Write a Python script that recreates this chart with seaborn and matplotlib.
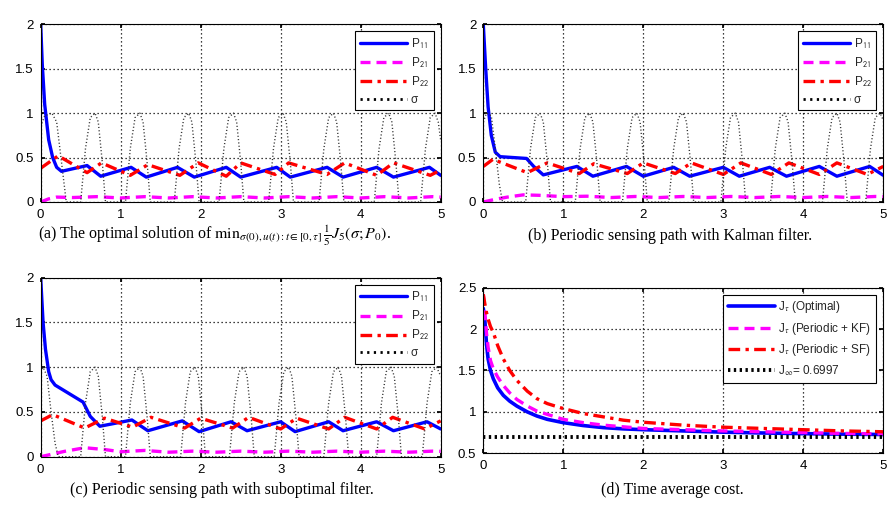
# recreate 2x2 sensing-path figure (covariance entries + time average cost)

import numpy as np
import matplotlib
matplotlib.use("Agg")
import matplotlib.pyplot as plt
import seaborn as sns

sns.set_theme(style="ticks")
plt.rcParams["font.family"] = ["Liberation Sans", "DejaVu Sans"]
plt.rcParams["mathtext.fontset"] = "stix"

# =========================
# DATA
# =========================

# panel (a): optimal solution
t_p11_a = [0, 0.02, 0.05, 0.1, 0.15, 0.2, 0.26, 0.58, 0.75, 1.13, 1.32, 1.71, 1.92,
           2.32, 2.5, 2.95, 3.12, 3.58, 3.78, 4.2, 4.41, 4.86, 5.0]
p11_a = [2.0, 1.55, 1.1, 0.7, 0.5, 0.39, 0.345, 0.41, 0.29, 0.39, 0.28, 0.39, 0.28,
         0.39, 0.28, 0.39, 0.28, 0.39, 0.28, 0.39, 0.28, 0.39, 0.30]
t_p22_a = [0, 0.22, 0.58, 0.76, 1.12, 1.34, 1.74, 1.97, 2.32, 2.5, 2.93, 3.1, 3.58,
           3.8, 4.2, 4.41, 4.87, 5.0]
p22_a = [0.38, 0.52, 0.33, 0.44, 0.30, 0.42, 0.30, 0.44, 0.29, 0.44, 0.31, 0.44, 0.31,
         0.44, 0.30, 0.44, 0.30, 0.36]
t_p21_a = [0, 0.1, 0.2, 0.4, 0.7, 1.0, 1.3, 1.6, 1.9, 2.2, 2.5, 2.8, 3.1, 3.4, 3.7,
           4.0, 4.3, 4.6, 4.9, 5.0]
p21_a = [0.0, 0.035, 0.055, 0.05, 0.06, 0.045, 0.06, 0.045, 0.06, 0.045, 0.06, 0.045,
         0.06, 0.045, 0.06, 0.045, 0.06, 0.045, 0.06, 0.055]
t_sig_a = [0, 0.05, 0.14, 0.2, 0.26, 0.32,
           0.5, 0.56, 0.62, 0.68, 0.72, 0.77, 0.81,
           1.06, 1.12, 1.18, 1.24, 1.28, 1.33, 1.37,
           1.67, 1.73, 1.79, 1.85, 1.89, 1.94, 1.98,
           2.23, 2.29, 2.35, 2.41, 2.45, 2.5, 2.54,
           2.85, 2.91, 2.97, 3.03, 3.07, 3.12, 3.16,
           3.48, 3.54, 3.6, 3.66, 3.7, 3.75, 3.79,
           4.17, 4.23, 4.29, 4.35, 4.39, 4.44, 4.48,
           4.75, 4.81, 4.87, 4.93, 4.97, 5.0]
sig_a = [0.85, 0.97, 1.0, 0.9, 0.45, 0.0,
         0.0, 0.6, 0.95, 1.0, 0.9, 0.45, 0.0,
         0.0, 0.6, 0.95, 1.0, 0.9, 0.45, 0.0,
         0.0, 0.6, 0.95, 1.0, 0.9, 0.45, 0.0,
         0.0, 0.6, 0.95, 1.0, 0.9, 0.45, 0.0,
         0.0, 0.6, 0.95, 1.0, 0.9, 0.45, 0.0,
         0.0, 0.6, 0.95, 1.0, 0.9, 0.45, 0.0,
         0.0, 0.6, 0.95, 1.0, 0.9, 0.45, 0.0,
         0.0, 0.6, 0.95, 1.0, 0.9, 0.7]

# panel (b): periodic path + Kalman filter
t_p11_b = [0, 0.03, 0.06, 0.1, 0.15, 0.21, 0.54, 0.63, 0.75, 1.17, 1.37, 1.79, 2.0,
           2.38, 2.58, 3.0, 3.2, 3.58, 3.79, 4.2, 4.42, 4.83, 5.0]
p11_b = [2.0, 1.5, 1.07, 0.75, 0.56, 0.51, 0.49, 0.40, 0.305, 0.40, 0.29, 0.40, 0.29,
         0.39, 0.29, 0.39, 0.29, 0.39, 0.29, 0.40, 0.29, 0.40, 0.30]
t_p22_b = [0, 0.12, 0.55, 0.8, 1.2, 1.38, 1.8, 2.0, 2.4, 2.6, 3.0, 3.22, 3.6, 3.82,
           4.2, 4.42, 4.8, 5.0]
p22_b = [0.40, 0.48, 0.33, 0.44, 0.32, 0.43, 0.32, 0.44, 0.32, 0.44, 0.31, 0.44, 0.31,
         0.44, 0.31, 0.44, 0.31, 0.40]
t_p21_b = [0, 0.15, 0.3, 0.5, 0.7, 1.0, 1.3, 1.6, 1.9, 2.2, 2.5, 2.8, 3.1, 3.4, 3.7,
           4.0, 4.3, 4.6, 4.9, 5.0]
p21_b = [0.0, 0.03, 0.055, 0.08, 0.075, 0.06, 0.065, 0.05, 0.062, 0.05, 0.062, 0.05,
         0.062, 0.05, 0.062, 0.05, 0.062, 0.05, 0.062, 0.06]
t_sig_b = [0, 0.04, 0.1, 0.15, 0.2, 0.24,
           0.53, 0.59, 0.65, 0.71, 0.75, 0.8, 0.84,
           1.15, 1.21, 1.27, 1.33, 1.37, 1.42, 1.46,
           1.74, 1.8, 1.86, 1.92, 1.96, 2.01, 2.05,
           2.32, 2.38, 2.44, 2.5, 2.54, 2.59, 2.63,
           2.97, 3.03, 3.09, 3.15, 3.19, 3.24, 3.28,
           3.59, 3.65, 3.71, 3.77, 3.81, 3.86, 3.9,
           4.24, 4.3, 4.36, 4.42, 4.46, 4.51, 4.55,
           4.78, 4.84, 4.9, 4.96, 5.0]
sig_b = [0.9, 1.0, 0.97, 0.6, 0.2, 0.0,
         0.0, 0.6, 0.95, 1.0, 0.9, 0.45, 0.0,
         0.0, 0.6, 0.95, 1.0, 0.9, 0.45, 0.0,
         0.0, 0.6, 0.95, 1.0, 0.9, 0.45, 0.0,
         0.0, 0.6, 0.95, 1.0, 0.9, 0.45, 0.0,
         0.0, 0.6, 0.95, 1.0, 0.9, 0.45, 0.0,
         0.0, 0.6, 0.95, 1.0, 0.9, 0.45, 0.0,
         0.0, 0.6, 0.95, 1.0, 0.9, 0.45, 0.0,
         0.0, 0.6, 0.95, 1.0, 0.92]

# panel (c): periodic path + suboptimal filter
t_p11_c = [0, 0.03, 0.06, 0.1, 0.13, 0.18, 0.53, 0.62, 0.74, 1.14, 1.34, 1.77, 1.98,
           2.38, 2.58, 3.0, 3.18, 3.6, 3.78, 4.2, 4.41, 4.83, 5.0]
p11_c = [2.0, 1.5, 1.2, 0.95, 0.86, 0.80, 0.61, 0.45, 0.34, 0.41, 0.29, 0.40, 0.28,
         0.39, 0.29, 0.39, 0.28, 0.39, 0.29, 0.39, 0.29, 0.39, 0.31]
t_p22_c = [0, 0.15, 0.55, 0.8, 1.15, 1.38, 1.8, 2.0, 2.4, 2.6, 3.0, 3.2, 3.6, 3.8,
           4.2, 4.4, 4.8, 5.0]
p22_c = [0.40, 0.47, 0.32, 0.43, 0.33, 0.44, 0.32, 0.43, 0.32, 0.44, 0.31, 0.43, 0.31,
         0.44, 0.31, 0.44, 0.31, 0.40]
t_p21_c = [0, 0.15, 0.3, 0.55, 0.8, 1.0, 1.3, 1.6, 1.9, 2.2, 2.5, 2.8, 3.1, 3.4, 3.7,
           4.0, 4.3, 4.6, 4.9, 5.0]
p21_c = [0.0, 0.03, 0.06, 0.1, 0.08, 0.055, 0.07, 0.05, 0.062, 0.05, 0.062, 0.05,
         0.062, 0.05, 0.062, 0.05, 0.062, 0.05, 0.062, 0.06]
t_sig_c = [0, 0.03, 0.08, 0.13, 0.18, 0.22,
           0.5, 0.56, 0.62, 0.68, 0.72, 0.77, 0.81,
           1.06, 1.12, 1.18, 1.24, 1.28, 1.33, 1.37,
           1.75, 1.81, 1.87, 1.93, 1.97, 2.02, 2.06,
           2.36, 2.42, 2.48, 2.54, 2.58, 2.63, 2.67,
           2.92, 2.98, 3.04, 3.1, 3.14, 3.19, 3.23,
           3.54, 3.6, 3.66, 3.72, 3.76, 3.81, 3.85,
           4.2, 4.26, 4.32, 4.38, 4.42, 4.47, 4.51,
           4.77, 4.83, 4.89, 4.95, 5.0]
sig_c = [0.95, 1.0, 0.9, 0.5, 0.15, 0.0,
         0.0, 0.6, 0.95, 1.0, 0.9, 0.45, 0.0,
         0.0, 0.6, 0.95, 1.0, 0.9, 0.45, 0.0,
         0.0, 0.6, 0.95, 1.0, 0.9, 0.45, 0.0,
         0.0, 0.6, 0.95, 1.0, 0.9, 0.45, 0.0,
         0.0, 0.6, 0.95, 1.0, 0.9, 0.45, 0.0,
         0.0, 0.6, 0.95, 1.0, 0.9, 0.45, 0.0,
         0.0, 0.6, 0.95, 1.0, 0.9, 0.45, 0.0,
         0.0, 0.6, 0.95, 1.0, 0.9]

# panel (d): time average cost
t_cost = [0, 0.02, 0.04, 0.06, 0.09, 0.125, 0.18, 0.25, 0.33, 0.42, 0.55, 0.67, 0.8,
          1.0, 1.25, 1.5, 1.75, 2.0, 2.5, 3.0, 3.5, 4.0, 4.5, 5.0]
j_opt = [2.25, 2.1, 1.82, 1.64, 1.5, 1.40, 1.29, 1.20, 1.13, 1.07, 1.0, 0.95, 0.91,
         0.87, 0.835, 0.81, 0.795, 0.785, 0.77, 0.755, 0.745, 0.737, 0.731, 0.727]
j_kf = [2.42, 2.2, 1.95, 1.78, 1.62, 1.52, 1.42, 1.32, 1.23, 1.15, 1.07, 1.01, 0.97,
        0.91, 0.87, 0.84, 0.82, 0.80, 0.785, 0.77, 0.76, 0.75, 0.74, 0.735]
j_sf = [2.42, 2.3, 2.2, 2.12, 2.03, 1.96, 1.80, 1.64, 1.50, 1.38, 1.25, 1.16, 1.10,
        1.04, 0.98, 0.94, 0.90, 0.875, 0.84, 0.815, 0.80, 0.785, 0.77, 0.76]
t_inf = [0, 5]
j_inf = [0.6997, 0.6997]

p_labels = [r"P$_{\mathsf{11}}$", r"P$_{\mathsf{21}}$", r"P$_{\mathsf{22}}$", "σ"]
cost_labels = [r"J$_{\tau}$ (Optimal)", r"J$_{\tau}$ (Periodic + KF)",
               r"J$_{\tau}$ (Periodic + SF)", r"J$_{\infty}$= 0.6997"]
captions = [
    r"(a) The optimal solution of $\mathrm{min}_{\sigma(0),u(t):t\in[0,\tau]}\,\frac{1}{5}J_5(\sigma;P_0)$.",
    "(b) Periodic sensing path with Kalman filter.",
    "(c) Periodic sensing path with suboptimal filter.",
    "(d) Time average cost.",
]

BLUE = "#0000ff"
MAGENTA = "#ff00ff"
RED = "#ff0000"
DASHDOT = (0, (3.5, 1.6, 1, 1.6))

# =========================
# FIGURE
# =========================

fig = plt.figure(figsize=(8.96, 5.08), dpi=100)

ax_a = fig.add_axes([0.0454, 0.6024, 0.4464, 0.3498])
ax_b = fig.add_axes([0.5394, 0.6024, 0.4464, 0.3498])
ax_c = fig.add_axes([0.0454, 0.1010, 0.4464, 0.3524])
ax_d = fig.add_axes([0.5394, 0.1077, 0.4464, 0.3260])


def style_axes(ax, ylim, yticks):
    ax.set_xlim(0, 5)
    ax.set_ylim(*ylim)
    ax.set_xticks(range(6))
    ax.set_yticks(yticks)
    ax.set_yticklabels(["%g" % v for v in yticks])
    ax.grid(True, color="black", linestyle=(0, (1, 2.2)), linewidth=0.9)
    ax.tick_params(direction="in", length=3, labelsize=9.5, colors="black",
                   pad=5, top=True, right=True)
    for s in ax.spines.values():
        s.set_color("black")
        s.set_linewidth(0.8)
    ax.set_xlabel("")
    ax.set_ylabel("")


panels = [
    (ax_a, t_p11_a, p11_a, t_p21_a, p21_a, t_p22_a, p22_a, t_sig_a, sig_a),
    (ax_b, t_p11_b, p11_b, t_p21_b, p21_b, t_p22_b, p22_b, t_sig_b, sig_b),
    (ax_c, t_p11_c, p11_c, t_p21_c, p21_c, t_p22_c, p22_c, t_sig_c, sig_c),
]

for ax, t11, y11, t21, y21, t22, y22, ts, ys in panels:
    sns.lineplot(x=t11, y=y11, ax=ax, color=BLUE, lw=2.4, sort=False,
                 label=p_labels[0])
    sns.lineplot(x=t21, y=y21, ax=ax, color=MAGENTA, lw=2.4, sort=False,
                 linestyle=(0, (3, 1.8)), label=p_labels[1])
    sns.lineplot(x=t22, y=y22, ax=ax, color=RED, lw=2.4, sort=False,
                 linestyle=DASHDOT, label=p_labels[2])
    sns.lineplot(x=ts, y=ys, ax=ax, color="#333333", lw=1.0, sort=False,
                 linestyle=(0, (0.8, 1.6)), label=p_labels[3])
    style_axes(ax, (0, 2), [0, 0.5, 1, 1.5, 2])
    leg = ax.legend(loc="upper right", fontsize=8.5, handlelength=4.0,
                    handletextpad=0.3, borderpad=0.4, labelspacing=0.4,
                    fancybox=False, framealpha=1, edgecolor="black",
                    borderaxespad=0.6)
    leg.get_frame().set_linewidth(0.8)
    leg.legend_handles[3].set_color("black")
    leg.legend_handles[3].set_linewidth(2.0)

# panel (d)
sns.lineplot(x=t_cost, y=j_opt, ax=ax_d, color=BLUE, lw=2.6, sort=False,
             label=cost_labels[0])
sns.lineplot(x=t_cost, y=j_kf, ax=ax_d, color=MAGENTA, lw=2.4, sort=False,
             linestyle=(0, (3, 1.8)), label=cost_labels[1])
sns.lineplot(x=t_cost, y=j_sf, ax=ax_d, color=RED, lw=2.4, sort=False,
             linestyle=DASHDOT, label=cost_labels[2])
sns.lineplot(x=t_inf, y=j_inf, ax=ax_d, color="black", lw=2.8, sort=False,
             linestyle=(0, (0.6, 0.9)), label=cost_labels[3])
style_axes(ax_d, (0.5, 2.5), [0.5, 1, 1.5, 2, 2.5])
leg = ax_d.legend(loc="upper right", fontsize=8.5, handlelength=4.0,
                  handletextpad=0.3, borderpad=0.4, labelspacing=0.45,
                  fancybox=False, framealpha=1, edgecolor="black",
                  borderaxespad=0.6)
leg.get_frame().set_linewidth(0.8)

# captions
cap_font = dict(family=["Liberation Serif", "DejaVu Serif"], fontsize=11.5,
                ha="center", va="center", color="black")
fig.text(215 / 896, 1 - 236 / 508, captions[0], **cap_font)
fig.text(670 / 896, 1 - 236 / 508, captions[1], **cap_font)
fig.text(222 / 896, 1 - 490 / 508, captions[2], **cap_font)
fig.text(672 / 896, 1 - 490 / 508, captions[3], **cap_font)

fig.savefig("out.png", dpi=100, facecolor="white")
